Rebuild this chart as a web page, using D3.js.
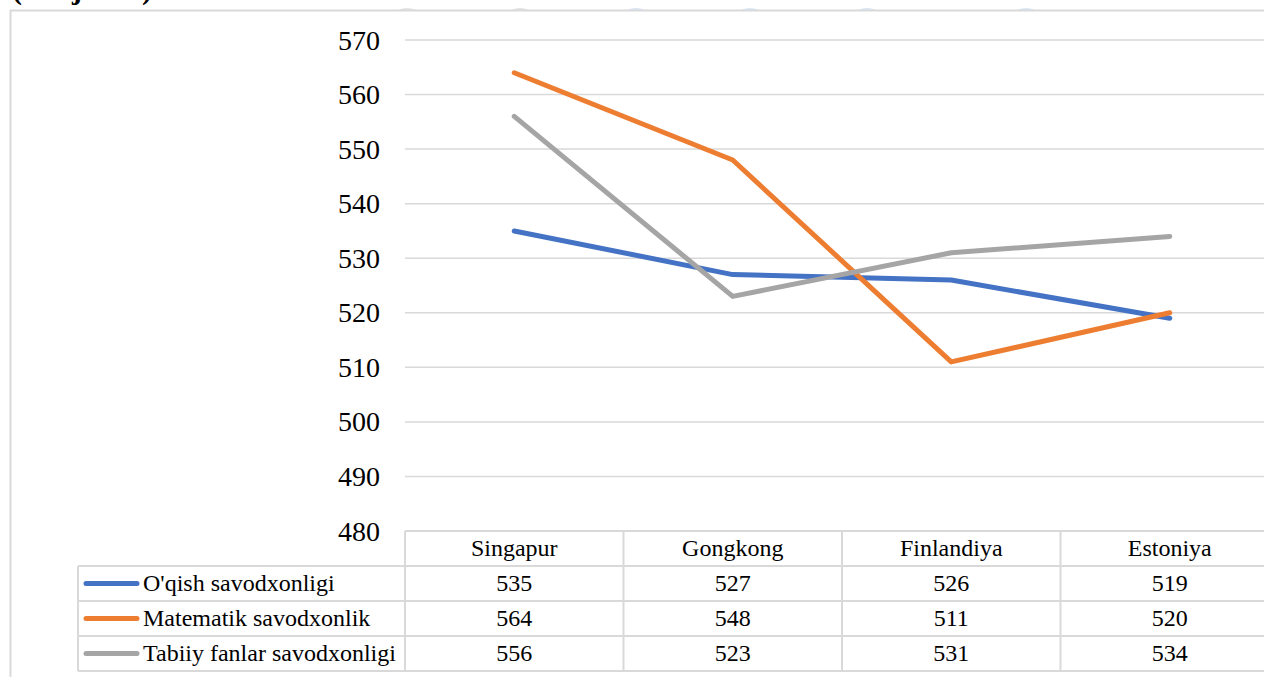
<!DOCTYPE html>
<html>
<head>
<meta charset="utf-8">
<script src="https://cdn.jsdelivr.net/npm/d3@7"></script>
<style>
  body { margin: 0; background: #fff; }
</style>
</head>
<body>
<div class="chart"></div>
<script>
// PISA natijalari: line chart with data table below

var countries = ["Singapur", "Gongkong", "Finlandiya", "Estoniya"];
var seriesNames = ["O'qish savodxonligi", "Matematik savodxonlik", "Tabiiy fanlar savodxonligi"];
var reading = [535, 527, 526, 519];
var maths = [564, 548, 511, 520];
var science = [556, 523, 531, 534];
var yTicks = [480, 490, 500, 510, 520, 530, 540, 550, 560, 570];
var colors = ["#4472C4", "#ED7D31", "#A5A5A5"];

var allSeries = [reading, maths, science];

var width = 1264, height = 677;
var gridColor = "#d9d9d9";
var serif = "Liberation Serif";

var svg = d3.select(".chart").append("svg")
    .attr("width", width)
    .attr("height", height);

// faint page decorations peeking above the chart frame
var blobs = [[407, "#e3e3e3"], [520, "#e3e3e3"], [636, "#d8e6f5"], [750, "#d8e6f5"], [867, "#d8e6f5"], [1026, "#d8e6f5"]];
svg.selectAll("circle.blob")
    .data(blobs)
    .enter().append("circle")
    .attr("class", "blob")
    .attr("cx", function(d) { return d[0]; })
    .attr("cy", 30)
    .attr("r", 22)
    .style("fill", function(d) { return d[1]; });

// cut-off caption at the very top (only descenders show)
svg.append("text")
    .attr("x", 12)
    .attr("y", -1)
    .style("font-family", serif)
    .style("font-size", "30px")
    .style("font-weight", "bold")
    .text("(natijalari)");

// chart frame (runs off the right and bottom edges)
svg.append("rect")
    .attr("x", 10.5)
    .attr("y", 10.5)
    .attr("width", 1300)
    .attr("height", 700)
    .style("fill", "#fff")
    .style("stroke", gridColor)
    .style("stroke-width", 2);

var x = d3.scaleBand()
    .domain(countries)
    .range([405, 1279]);

var y = d3.scaleLinear()
    .domain([480, 570])
    .range([531, 40]);

// gridlines
svg.selectAll("line.grid")
    .data(yTicks.slice(1))
    .enter().append("line")
    .attr("class", "grid")
    .attr("x1", 405)
    .attr("x2", 1279)
    .attr("y1", function(d) { return y(d); })
    .attr("y2", function(d) { return y(d); })
    .style("stroke", gridColor)
    .style("stroke-width", 1.5);

// y tick labels
svg.selectAll("text.ytick")
    .data(yTicks)
    .enter().append("text")
    .attr("class", "ytick")
    .attr("x", 380)
    .attr("y", function(d) { return y(d) + 9.5; })
    .attr("text-anchor", "end")
    .style("font-family", serif)
    .style("font-size", "28px")
    .style("fill", "#000")
    .text(function(d) { return d; });

// lines
var line = d3.line()
    .x(function(d, i) { return x(countries[i]) + x.bandwidth() / 2; })
    .y(function(d) { return y(d); });

svg.selectAll("path.series")
    .data(allSeries)
    .enter().append("path")
    .attr("class", "series")
    .attr("d", line)
    .style("fill", "none")
    .style("stroke", function(d, i) { return colors[i]; })
    .style("stroke-width", 5)
    .style("stroke-linecap", "round")
    .style("stroke-linejoin", "round");

// data table
var rowTop = 531, rowH = 35, legendLeft = 78;
var tbl = svg.append("g").style("stroke", gridColor).style("stroke-width", 2);

// horizontal lines
tbl.append("line").attr("x1", 405).attr("x2", 1279).attr("y1", rowTop).attr("y2", rowTop);
d3.range(1, 5).forEach(function(r) {
  tbl.append("line")
      .attr("x1", legendLeft).attr("x2", 1279)
      .attr("y1", rowTop + r * rowH).attr("y2", rowTop + r * rowH);
});
// vertical lines
tbl.append("line").attr("x1", legendLeft).attr("x2", legendLeft)
    .attr("y1", rowTop + rowH).attr("y2", rowTop + 4 * rowH);
countries.concat(["end"]).forEach(function(c, i) {
  var xx = 405 + i * x.bandwidth();
  tbl.append("line").attr("x1", xx).attr("x2", xx)
      .attr("y1", rowTop).attr("y2", rowTop + 4 * rowH);
});

// header
svg.selectAll("text.head")
    .data(countries)
    .enter().append("text")
    .attr("class", "head")
    .attr("x", function(d) { return x(d) + x.bandwidth() / 2; })
    .attr("y", rowTop + 25)
    .attr("text-anchor", "middle")
    .style("font-family", serif)
    .style("font-size", "24px")
    .text(function(d) { return d; });

// legend cells
var legendRows = svg.selectAll("g.lrow")
    .data(seriesNames)
    .enter().append("g")
    .attr("class", "lrow")
    .attr("transform", function(d, i) { return "translate(0," + (rowTop + (i + 1) * rowH) + ")"; });

legendRows.append("line")
    .attr("x1", 86).attr("x2", 137)
    .attr("y1", rowH / 2).attr("y2", rowH / 2)
    .style("stroke", function(d, i) { return colors[i]; })
    .style("stroke-width", 5)
    .style("stroke-linecap", "round");

legendRows.append("text")
    .attr("x", 143)
    .attr("y", 25)
    .style("font-family", serif)
    .style("font-size", "24px")
    .text(function(d) { return d; });

// values
legendRows.selectAll("text.val")
    .data(function(d, i) { return allSeries[i]; })
    .enter().append("text")
    .attr("class", "val")
    .attr("x", function(d, j) { return x(countries[j]) + x.bandwidth() / 2; })
    .attr("y", 25)
    .attr("text-anchor", "middle")
    .style("font-family", serif)
    .style("font-size", "24px")
    .text(function(d) { return d; });
</script>
</body>
</html>
